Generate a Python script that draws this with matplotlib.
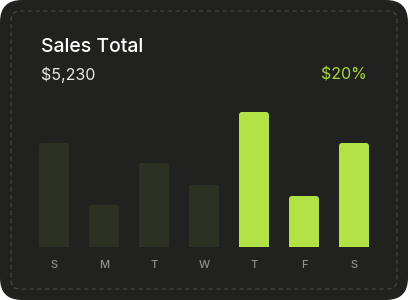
import matplotlib
matplotlib.use("Agg")
import matplotlib.pyplot as plt
from matplotlib.patches import FancyBboxPatch

days = ["S", "M", "T", "W", "T", "F", "S"]
sales = [104, 42, 84, 62, 135, 51, 104]
highlight = [False, False, False, False, True, True, True]
title = "Sales Total"
total = "$5,230"
change = "$20%"

W, H = 408, 300
fig = plt.figure(figsize=(W / 100, H / 100), dpi=100)
fig.patch.set_facecolor("white")

# card background in pixel coordinates
bg = fig.add_axes([0, 0, 1, 1])
bg.set_xlim(0, W)
bg.set_ylim(H, 0)
bg.axis("off")
bg.add_patch(FancyBboxPatch((0, 0), W, H, boxstyle="round,pad=0,rounding_size=22",
                            fc="#212120", ec="none"))
bg.add_patch(FancyBboxPatch((11, 11), W - 22, H - 22, boxstyle="round,pad=0,rounding_size=9",
                            fc="none", ec="#4a4a47", lw=0.8, ls=(0, (4, 3))))

font = ["Inter", "DejaVu Sans"]
bg.text(41, 47, title, color="white", fontsize=14, family=font, weight="medium",
        va="center", ha="left")
bg.text(41, 75, total, color="#e8e8e6", fontsize=11.5, family=font, va="center", ha="left")
bg.text(367, 75, change, color="#a6d93a", fontsize=11.5, family=font,
        va="center", ha="right")

# bars
ax = fig.add_axes([29 / W, 53 / H, 350 / W, 150 / H])
ax.set_xlim(-0.5, len(days) - 0.5)
ax.set_ylim(0, 150)
ax.patch.set_alpha(0)
for s in ax.spines.values():
    s.set_visible(False)

bars = ax.bar(range(len(days)), sales, width=0.6)
x_per_px = 7 / 350
y_per_px = 150 / 150
r = 3
for b, hi in zip(bars, highlight):
    b.set_visible(False)
    c = "#b2e346" if hi else "#2c3123"
    p = FancyBboxPatch((b.get_x(), -r * y_per_px), b.get_width(), b.get_height() + r * y_per_px,
                       boxstyle=f"round,pad=0,rounding_size={r * x_per_px}",
                       mutation_aspect=y_per_px / x_per_px, fc=c, ec="none")
    ax.add_patch(p)

ax.set_yticks([])
ax.set_xticks(range(len(days)))
ax.set_xticklabels(days, color="#8f8f8c", fontsize=8, family=font, weight="medium")
ax.tick_params(axis="x", length=0, pad=9.5)

fig.savefig("out.png", dpi=100, facecolor="white")
